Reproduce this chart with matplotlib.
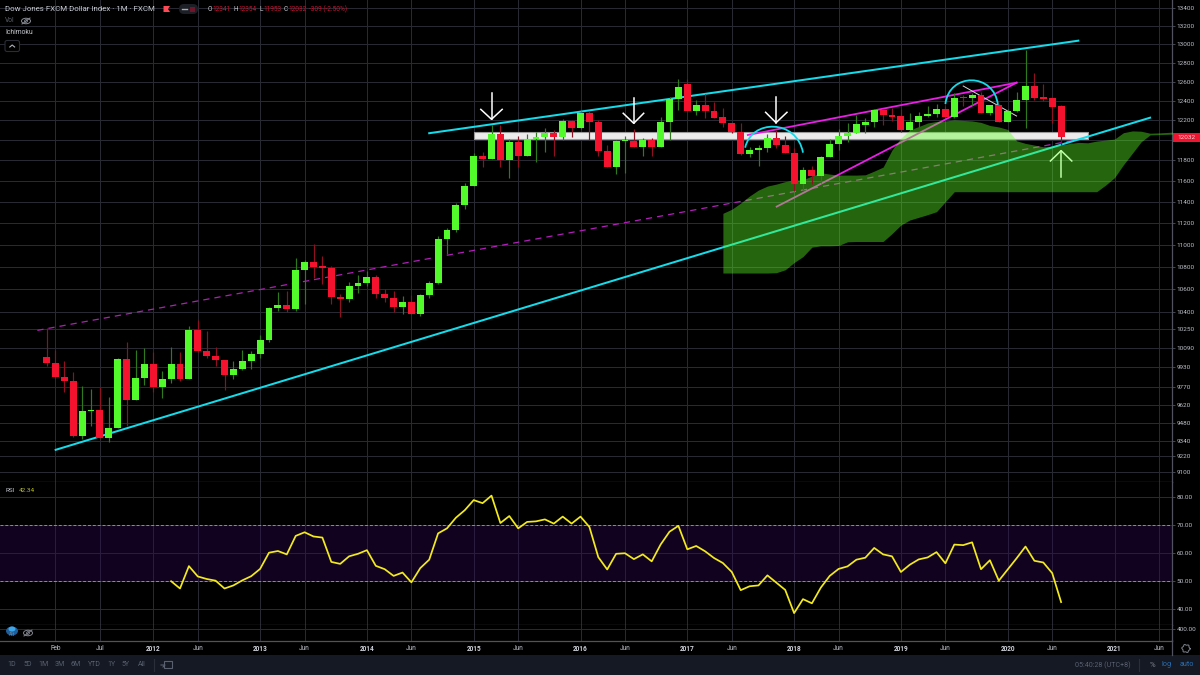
import matplotlib
matplotlib.use("Agg")
import matplotlib.pyplot as plt
from matplotlib.patches import Rectangle, FancyBboxPatch, Ellipse, Polygon, PathPatch
from matplotlib.path import Path
import numpy as np

opens = [10015,9969,9847,9820,9375,9572,9580,9360,9445,9998,
9662,9839,9954,9770,9833,9960,9831,10248,10068,10024,
9990,9864,9913,9985,10040,10158,10437,10463,10425,10768,
10845,10803,10790,10532,10513,10623,10655,10710,10558,10520,
10443,10489,10385,10544,10650,11048,11130,11366,11548,11843,
11813,12065,11800,11980,11845,12010,12027,12068,12032,12190,
12125,12277,12183,11888,11735,11987,11995,11932,11998,11932,
12180,12423,12574,12297,12360,12297,12230,12170,12078,11860,
11903,11918,12025,11948,11872,11565,11704,11648,11832,11962,
12045,12075,12155,12183,12307,12253,12240,12105,12186,12240,
12267,12312,12235,12436,12425,12458,12270,12352,12183,12294,
12404,12553,12438,12425,12341]
closes = [9966,9847,9817,9375,9577,9582,9360,9445,9998,9662,
9839,9954,9770,9833,9960,9831,10248,10068,10021,9990,
9864,9913,9985,10040,10158,10437,10463,10428,10768,10845,
10800,10790,10526,10513,10623,10655,10710,10558,10520,10443,
10489,10385,10544,10650,11048,11130,11366,11548,11843,11813,
12065,11800,11980,11845,12013,12027,12068,12032,12190,12125,
12277,12183,11888,11735,11987,12000,11932,11998,11932,12183,
12423,12543,12297,12360,12297,12227,12170,12078,11860,11903,
11918,12025,11948,11870,11570,11704,11648,11832,11962,12045,
12075,12160,12183,12307,12253,12236,12105,12186,12240,12267,
12315,12235,12430,12425,12458,12270,12352,12183,12294,12404,
12553,12430,12420,12332,12032]
highs = [10259,10079,9979,9894,9774,9755,9770,9688,10012,10139,
10079,10093,10060,9902,10101,10056,10276,10327,10234,10101,
9990,9984,10079,10068,10200,10443,10578,10585,10878,10860,
11007,10895,10805,10558,10665,10727,10760,10725,10600,10579,
10535,10550,10558,10670,11080,11155,11385,11575,11870,11884,
12150,12155,12007,12040,12058,12085,12118,12102,12217,12203,
12297,12290,12203,11950,12000,12040,12115,12020,12020,12235,
12440,12623,12623,12407,12470,12386,12330,12175,12170,11930,
11950,12058,12102,12040,11925,11730,11745,11843,12013,12112,
12175,12253,12220,12315,12315,12320,12315,12270,12280,12343,
12367,12345,12480,12460,12478,12495,12360,12367,12310,12490,
12935,12695,12570,12430,12354]
lows = [9940,9845,9728,9367,9354,9455,9360,9333,9440,9455,
9662,9789,9728,9678,9803,9820,9831,10060,10010,9945,
9744,9836,9905,9920,10005,10140,10411,10395,10405,10470,
10697,10647,10471,10357,10490,10565,10623,10517,10490,10402,
10385,10385,10367,10520,10640,10915,11115,11328,11548,11735,
11813,11735,11625,11735,11845,11785,11880,11845,12000,12033,
12108,12000,11843,11735,11665,11675,11932,11843,11843,11932,
12000,12300,12297,12252,12223,12227,12135,12067,11855,11830,
11745,11885,11925,11870,11500,11511,11570,11580,11832,11901,
11980,12075,12075,12135,12150,12195,12085,12095,12130,12233,
12233,12230,12225,12345,12357,12270,12255,12183,12183,12287,
12125,12407,12400,12175,11953]

cloud_start = 76
cloud_top = [11290,11328,11387,11454,11511,11549,11568,11592,11607,11610,
11646,11678,11665,11655,11655,11655,11658,11694,11733,11901,
12020,12102,12136,12172,12188,12193,12203,12198,12193,12178,
12147,12132,12107,11993,11967,11950,11933,11940,11950,11967,
11977,11973,11990,12000,12010,12074,12092,12089,12069,12072,
12077,12082]
cloud_bottom = [10742,10742,10742,10742,10742,10742,10745,10771,10836,10890,
10976,10988,10988,10991,11025,11028,11028,11028,11028,11100,
11180,11227,11252,11277,11305,11400,11495,11495,11495,11495,
11495,11495,11495,11495,11495,11495,11495,11495,11495,11495,
11495,11495,11495,11558,11630,11755,11868,11983,12052,12055,
12058,12062]

rsi_start = 14
rsi_values = [49.8,47.2,55.2,51.5,50.6,50,47.2,48.3,50.1,51.6,
54.2,60,60.6,59.4,66,67.3,65.8,65.4,56.7,56,
58.7,59.6,60.9,55.3,54.1,51.7,52.9,49.4,54.5,57.5,
66.9,68.7,72.5,75.2,78.8,77.7,80.4,70.6,73.1,68.7,
71,71.2,71.9,70.4,72.9,70.4,72.9,69.2,58.4,54,
59.6,59.8,57.7,59.4,56.9,62.9,67.5,69.6,61.2,62.4,
60.5,58.1,56.3,53.1,46.6,48,48.3,51.9,49.3,46.7,
38.4,43.4,41.9,47.5,51.7,54.2,55.1,57.5,58.2,61.7,
59.4,58.7,53.1,55.7,57.6,58.3,60.2,56.2,62.9,62.7,
63.7,54.1,57.3,50,54,58,62.2,57.1,56.5,52.7,42.34]

price_ticks = [13400,13200,13000,12800,12600,12400,12200,12000,11800,11600,11400,
               11200,11000,10800,10600,10400,10250,10090,9930,9770,9620,9480,9340,9220,9100]
rsi_ticks = [40,50,60,70,80]
time_ticks = [1,6,12,17,24,29,36,41,48,53,60,65,72,77,84,89,96,101,108,113,120,125]
time_labels = ["Feb","Jul","2012","Jun","2013","Jun","2014","Jun","2015","Jun","2016","Jun",
               "2017","Jun","2018","Jun","2019","Jun","2020","Jun","2021","Jun"]

# drawings, in (month index, price)
upper_channel = ([43.0,115.93],[12069,13036])
lower_channel = ([1.03,124.0],[9271,12226])
magenta_a = ([82.04,109.0],[11353,12588])
magenta_b = ([78.8,109.0],[12051,12588])
dashed_trend = ([-1.03,115.3],[10241,11995])
thin_line = ([103.0,109.0],[12553,12243])
band = ([48.03,117.0],12010,12082)
arc1 = [(78.5,11924),(79.2,12214),(84.3,12214),(85.0,11875)]
arc2 = [(101.0,12366),(101.4,12698),(106.5,12698),(106.9,12356)]
arrows = [(50.0,12477,12210,48.8,51.2,12311),
          (65.98,12431,12169,64.8,67.1,12271),
          (81.97,12441,12175,80.8,83.2,12281),
          (114.0,11639,11895,112.8,115.2,11793)]

UI = "Roboto"
plt.rcParams["font.family"] = [UI, "DejaVu Sans"]
W, H = 1200, 675
fig = plt.figure(figsize=(12, 6.75), dpi=100, facecolor="black")

def pane(top, bottom):
    return fig.add_axes([0, 1-bottom/H, 1172/W, (bottom-top)/H], facecolor="black")

ax = pane(0, 482.3)
ax_rsi = pane(482.3, 624.5)
ax_vol = pane(624.5, 640.8)

GRID = "#272933"
AXISC = "#50535e"
TICK = "#bdc0c8"
x0 = -46.5/8.9
x1 = (1172-46.5)/8.9
for a in (ax, ax_rsi, ax_vol):
    a.set_xlim(x0, x1)
    a.set_axisbelow(True)
    a.set_xticks(time_ticks)
    a.grid(True, color=GRID, lw=0.75)
    a.yaxis.tick_right()
    a.tick_params(axis="y", colors=TICK, labelsize=4.6, length=2, width=0.6, pad=1.5, color=AXISC)
    a.tick_params(axis="x", length=0, labelbottom=False)
    for s in ("left", "top"):
        a.spines[s].set_visible(False)
    for s in ("right", "bottom"):
        a.spines[s].set_color(AXISC)
        a.spines[s].set_linewidth(0.9)

# main pane
ax.set_yscale("log")
ax.set_ylim(13000*np.exp(-0.000833*(482.3-44)), 13000*np.exp(0.000833*44))
ax.set_yticks(price_ticks)
ax.set_yticklabels([str(v) for v in price_ticks])
ax.minorticks_off()

m = np.arange(len(opens))
o, c, h, l = map(np.array, (opens, closes, highs, lows))
up = c >= o
UPC, DOWNC = "#52f92b", "#f5122f"
ax.fill_between(band[0], band[1], band[2], color="#ececec", ec="#9a9a9a", lw=0.8, zorder=1)
cy = "#14dcea"; mg = "#ea1ee6"
ax.plot(*dashed_trend, color="#b01fb8", lw=0.9, dashes=(5, 4), zorder=2)
ax.plot(*upper_channel, color=cy, lw=1.45, zorder=2.2)
ax.plot(*lower_channel, color=cy, lw=1.45, zorder=2.2)
ax.plot(*magenta_a, color=mg, lw=1.3, zorder=2.2)
ax.plot(*magenta_b, color=mg, lw=1.3, zorder=2.2)
for arc in (arc1, arc2):
    ax.add_patch(PathPatch(Path(arc, [Path.MOVETO, Path.CURVE4, Path.CURVE4, Path.CURVE4]),
                           fc="none", ec=cy, lw=1.3, zorder=2.2))
ax.plot(*thin_line, color="#d8d8d8", lw=0.7, zorder=2.3)
for (ax_m, base, tip, w1, w2, wing) in arrows:
    ax.plot([ax_m, ax_m], [base, tip], color="white", lw=1.1, zorder=2.4)
    ax.plot([w1, ax_m, w2], [wing, tip, wing], color="white", lw=1.1, zorder=2.4)
xc = np.arange(cloud_start, cloud_start+len(cloud_top))
ax.fill_between(xc, cloud_bottom, cloud_top, color="#5eff22", alpha=0.40, lw=0, zorder=3)
ax.vlines(m[up], l[up], h[up], color="#2f7a1c", lw=0.85, zorder=4)
ax.vlines(m[~up], l[~up], h[~up], color="#8f1022", lw=0.85, zorder=4)
ax.bar(m[up], (c-o)[up], bottom=o[up], width=0.78, color=UPC, lw=0, zorder=5)
ax.bar(m[~up], (c-o)[~up], bottom=o[~up], width=0.78, color=DOWNC, lw=0, zorder=5)

# RSI pane
ax_rsi.set_ylim(34.33, 85.16)
ax_rsi.set_yticks(rsi_ticks)
ax_rsi.set_yticklabels([f"{v:.2f}" for v in rsi_ticks])
ax_rsi.axhspan(50, 70, color="#2d0a50", alpha=0.40, lw=0, zorder=1)
for lv in (50, 70):
    ax_rsi.axhline(lv, color="#8d8d9d", lw=0.7, dashes=(3, 2), zorder=1.8)
ax_rsi.plot(np.arange(rsi_start, rsi_start+len(rsi_values)), rsi_values, color="#f3ea1f", lw=1.25, zorder=3)

# volume pane
ax_vol.set_ylim(0, 556)
ax_vol.set_yticks([400])
ax_vol.set_yticklabels(["400.00"])
ax_vol.tick_params(axis="x", labelbottom=True, labelsize=4.7, colors=TICK, pad=3.2)
ax_vol.set_xticklabels(time_labels)
for t, s in zip(ax_vol.get_xticklabels(), time_labels):
    if s.isdigit():
        t.set_color("#d1d4dc"); t.set_fontweight("bold")

# interface layer in pixel coordinates
ui = fig.add_axes([0, 0, 1, 1], facecolor="none", zorder=10)
ui.set_xlim(0, W); ui.set_ylim(H, 0); ui.axis("off")
def tx(x, y, s, color="#c8cad0", size=5.0, ha="left", **k):
    ui.text(x, y, s, color=color, fontsize=size, ha=ha, va="center", **k)
ui.add_patch(Rectangle((0, 655), W, 20, color="#141923", lw=0))
ui.plot([1172, 1172], [640, 655], color=AXISC, lw=0.9)
# header
tx(5, 9, "Dow Jones FXCM Dollar Index · 1M · FXCM", size=5.7)
ui.add_patch(Polygon([(163.5,6),(170,6),(168,9),(170,12),(163.5,12)], color="#ff4a55", lw=0))
ui.add_patch(FancyBboxPatch((179,4),19,10, boxstyle="round,pad=0,rounding_size=5", ec="none", fc="#1d1f27", lw=0))
ui.plot([182,187],[9,9], color="#a8aab2", lw=1)
ui.add_patch(Rectangle((190,6.5),5,5, color="#70162c", lw=0))
RED = "#cf1230"; GR = "#c8cad0"
for xx, lab, val in [(208,"O","12341"),(234,"H","12354"),(259,"L","11953"),(284,"C","12032")]:
    tx(xx, 9.5, lab, color=GR, size=4.7)
    tx(xx+4.5, 9.5, val, color=RED, size=4.7)
tx(309, 9.5, "-309 (-2.50%)", color=RED, size=4.7)
tx(5, 21, "Vol", color="#5c5f68", size=4.8)
def eye(x, y, col):
    ui.add_patch(Ellipse((x,y), 9, 5.5, fc="none", ec=col, lw=0.7))
    ui.add_patch(Ellipse((x,y), 2.8, 2.8, fc="none", ec=col, lw=0.6))
    ui.plot([x-4,x+4],[y+3,y-3], color=col, lw=0.7)
eye(26, 21, "#888b94")
tx(5, 33, "Ichimoku", size=4.9)
ui.add_patch(FancyBboxPatch((5,40.5),14.5,11, boxstyle="round,pad=0,rounding_size=2", ec="#2a2d36", fc="black", lw=0.8))
ui.plot([9.8,12.2,14.6],[47,45,47], color="#b0b2ba", lw=0.8)
# RSI legend
tx(5, 490.7, "RSI", size=4.6)
tx(19, 490.7, "42.34", color="#b6bd28", size=4.6)
# volume icon
ui.add_patch(Ellipse((12,631), 12, 9, color="#1d5f9c", lw=0))
ui.add_patch(Ellipse((12,629), 7, 5, color="#3ea6e8", lw=0))
tx(12, 634.5, "Alt", color="#6d7f93", size=3.6, ha="center")
eye(28, 633, "#80838c")
# last price tag
ui.add_patch(Rectangle((1173,133), 27, 9, color="#ef1530", lw=0))
tx(1186.5, 137.5, "12032", color="#f3d8da", size=4.6, ha="center")
# range buttons
for xx, s in zip([12,28,44,60,76,94,111,126,142], ["1D","5D","1M","3M","6M","YTD","1Y","5Y","All"]):
    tx(xx, 665, s, color="#5a6070", size=5.0, ha="center")
ui.plot([154,154],[659,671], color="#2a2e39", lw=0.8)
ui.add_patch(Rectangle((164,661), 7.5, 7, fc="none", ec="#5a6070", lw=0.8))
ui.plot([161,165,163],[665,665,667], color="#5a6070", lw=0.8)
tx(1103, 665, "05:40:28 (UTC+8)", color="#5a6070", size=5.1, ha="center")
ui.plot([1139,1139],[659,671], color="#2a2e39", lw=0.8)
tx(1152, 665, "%", color="#7f8490", size=5.6, ha="center")
tx(1167, 665, "log", color="#2a6fb4", size=5.2, ha="center")
tx(1187, 665, "auto", color="#2a6fb4", size=5.2, ha="center")
# settings gear
th = np.linspace(0, 2*np.pi, 25)
rr = 3.4 + 0.8*np.where(np.arange(25) % 4 < 2, 1, 0)
ui.plot(1186+rr*np.cos(th), 648.5+rr*np.sin(th), color="#7f8490", lw=0.7)

fig.savefig("out.png", dpi=100, facecolor="black")
